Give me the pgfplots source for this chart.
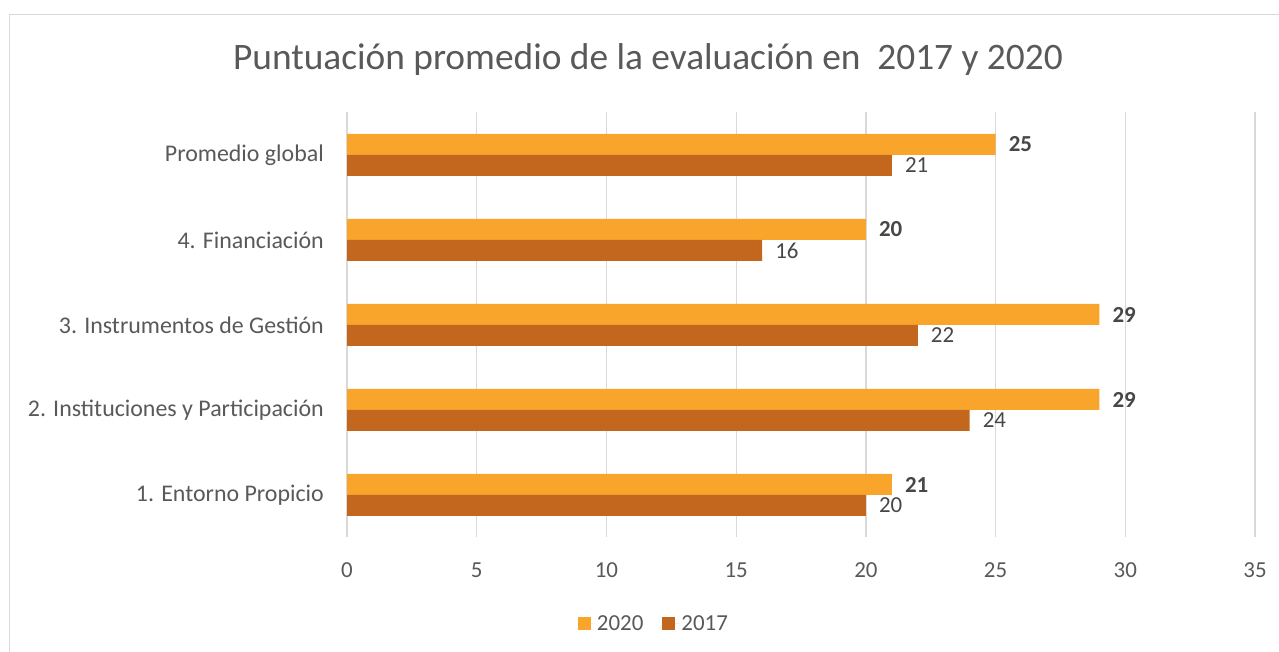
\documentclass[border=0pt]{standalone}
\usepackage{pgfplots}
\pgfplotsset{compat=1.18}
\usepackage{fontspec}
\setmainfont{Carlito}
\definecolor{c2020}{HTML}{F9A42B}
\definecolor{c2017}{HTML}{C2671D}
\definecolor{txt}{HTML}{595959}
\definecolor{grd}{HTML}{D9D9D9}
\begin{document}
\begin{tikzpicture}[x=1bp,y=1bp]
\useasboundingbox (0,0) rectangle (1279,652);
\fill[white] (0,0) rectangle (1279,652);
\draw[grd, line width=1.5bp] (9.5,-20) -- (9.5,637.5) -- (1300,637.5);
\node[anchor=base, text=txt, font=\fontsize{37.5}{42}\selectfont] at (648,582) {Puntuación promedio de la evaluación en~~2017 y 2020};
\begin{axis}[
  at={(347bp,114.5bp)}, anchor=south west,
  scale only axis, width=908bp, height=425bp,
  xmin=0, xmax=35, ymin=-0.5, ymax=4.5,
  xtick={0,5,...,35}, ytick={0,1,2,3,4},
  yticklabels={1. Entorno Propicio, 2. Instituciones y Participación, 3. Instrumentos de Gestión, 4. Financiación, Promedio global},
  xmajorgrids, grid style={grd, line width=1.3bp},
  axis line style={draw=none}, major tick length=0pt,
  /pgf/number format/assume math mode=true,
  xticklabel style={font=\fontsize{23}{26}\selectfont, text=txt, anchor=north, inner sep=0pt, yshift=-25bp},
  yticklabel style={font=\fontsize{24}{28}\selectfont, text=txt, anchor=east, inner sep=0pt, xshift=-23bp},
  xbar, bar width=21bp,
  nodes near coords,
  every node near coord/.append style={anchor=west, inner sep=0pt, xshift=13bp, font=\fontsize{23}{26}\selectfont, text=txt!80!black},
  legend style={draw=none, fill=none, legend columns=2, at={(0.338,-0.2024)}, anchor=center,
    font=\fontsize{23}{26}\selectfont, text=txt,
    /tikz/every even column/.append style={column sep=17bp}},
  legend image code/.code={\fill[#1, draw=none] (0bp,-6.5bp) rectangle (13bp,6.5bp); \path (0bp,0bp) -- (17bp,0bp);},
]
\addplot[fill=c2020, draw=none, bar shift=10.5bp, every node near coord/.append style={font=\fontsize{23}{26}\selectfont\bfseries}] coordinates {(21,0) (29,1) (29,2) (20,3) (25,4)};
\addlegendentry{2020}
\addplot[fill=c2017, draw=none, bar shift=-10.5bp] coordinates {(20,0) (24,1) (22,2) (16,3) (21,4)};
\addlegendentry{2017}
\end{axis}
\end{tikzpicture}
\end{document}
